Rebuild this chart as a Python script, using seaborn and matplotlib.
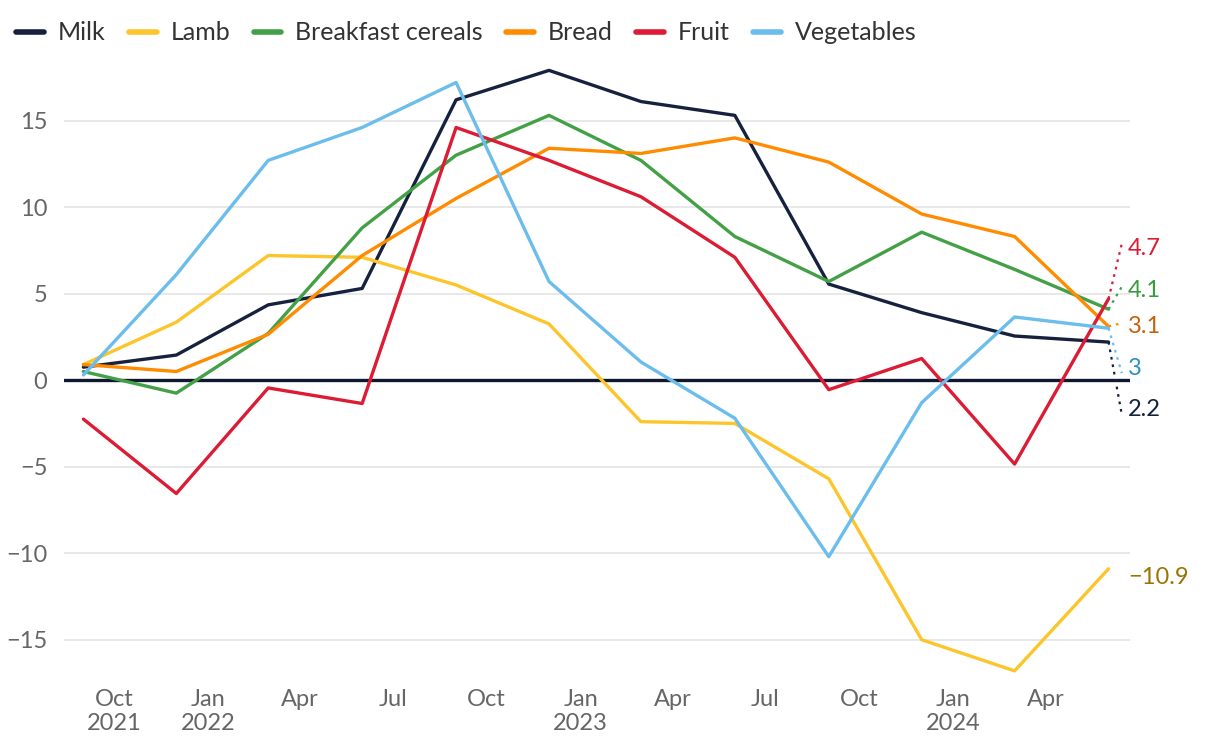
import pandas as pd
import seaborn as sns
import matplotlib.pyplot as plt

# データ（四半期ごと, 2021年9月〜2024年6月）
dates = pd.date_range('2021-09-01', periods=12, freq='3MS')
milk = [0.75, 1.45, 4.35, 5.3, 16.2, 17.9, 16.1, 15.3, 5.55, 3.9, 2.55, 2.2]
lamb = [0.9, 3.35, 7.2, 7.1, 5.5, 3.25, -2.4, -2.5, -5.7, -15.0, -16.8, -10.9]
cereals = [0.5, -0.75, 2.7, 8.8, 13.0, 15.3, 12.7, 8.3, 5.7, 8.55, 6.4, 4.1]
bread = [0.9, 0.5, 2.65, 7.2, 10.5, 13.4, 13.1, 14.0, 12.6, 9.6, 8.3, 3.1]
fruit = [-2.25, -6.55, -0.45, -1.35, 14.6, 12.7, 10.6, 7.1, -0.55, 1.25, -4.85, 4.7]
vegetables = [0.3, 6.1, 12.7, 14.6, 17.2, 5.7, 1.05, -2.2, -10.2, -1.3, 3.65, 3.0]

series_names = ['Milk', 'Lamb', 'Breakfast cereals', 'Bread', 'Fruit', 'Vegetables']
series_values = [milk, lamb, cereals, bread, fruit, vegetables]
end_labels = ['2.2', '\u221210.9', '4.1', '3.1', '4.7', '3']

colors = ['#16213e', '#fdc52c', '#43a047', '#ff8c00', '#dc1c34', '#6bbdec']
label_colors = ['#16213e', '#9a7400', '#3a9a3e', '#c6620c', '#dc1c34', '#2b90c4']
# ラベルの縦位置（重なり回避用）
label_y = [-1.7, -11.4, 5.2, 3.1, 7.6, 0.7]

frames = []
for name, vals in zip(series_names, series_values):
    frames.append(pd.DataFrame({'date': dates, 'value': vals, 'series': name}))
df = pd.concat(frames, ignore_index=True)

sns.set_style('white')
plt.rcParams['font.family'] = ['Lato', 'DejaVu Sans']

fig = plt.figure(figsize=(12.2, 7.56), dpi=100)
ax = fig.add_axes([64 / 1220, 73 / 756, 1066 / 1220, 623 / 756])

ax.axhline(0, color='#0f1830', lw=2.4, zorder=1)
for y in [-15, -10, -5, 5, 10, 15]:
    ax.axhline(y, color='#e6e6e6', lw=1.3, zorder=0)

sns.lineplot(data=df, x='date', y='value', hue='series', hue_order=series_names,
             palette=dict(zip(series_names, colors)), lw=2.4, ax=ax, zorder=3)

# 末尾ラベルと点線
last = dates[-1]
for vals, lab, c, lc, ly in zip(series_values, end_labels, colors, label_colors, label_y):
    if abs(ly - vals[-1]) > 2:
        y_end = ly + 0.3 * (1 if ly > vals[-1] else -1)
    else:
        y_end = ly + 0.2
    if lab != '\u221210.9':
        ax.plot([last, last + pd.Timedelta(days=13)], [vals[-1], y_end],
                ls=(0, (1.2, 2.2)), color=c, lw=1.6, zorder=2)
    ax.text(last + pd.Timedelta(days=19), ly, lab, color=lc, fontsize=17,
            va='center', ha='left')

ax.set_xlim(pd.Timestamp('2021-08-13'), pd.Timestamp('2024-06-22'))
ax.set_ylim(-17.5, 18.5)
ax.set_yticks([-15, -10, -5, 0, 5, 10, 15])
ax.set_yticklabels(['\u221215', '\u221210', '\u22125', '0', '5', '10', '15'])

ticks = pd.date_range('2021-10-01', '2024-04-01', freq='3MS')
ax.set_xticks(ticks)
ax.set_xticklabels([d.strftime('%b') + ('\n' + d.strftime('%Y') if d.month == 1 or d == ticks[0] else '')
                    for d in ticks])
ax.tick_params(axis='both', length=0, labelsize=17, labelcolor='#666666')
ax.tick_params(axis='y', pad=12)
ax.tick_params(axis='x', pad=4)
for s in ax.spines.values():
    s.set_visible(False)
ax.set_xlabel('')
ax.set_ylabel('')
ax.grid(False)

handles, labels = ax.get_legend_handles_labels()
ax.get_legend().remove()
leg = fig.legend(handles, labels, loc='upper left', bbox_to_anchor=(-0.004, 1.0), ncol=6,
                 frameon=False, fontsize=18, handlelength=1.1, handletextpad=0.55,
                 columnspacing=0.95, borderaxespad=0.45)
for t in leg.get_texts():
    t.set_color('#333333')
for h in leg.legend_handles:
    h.set_linewidth(4)

plt.savefig('out.png', dpi=100)
plt.close()
